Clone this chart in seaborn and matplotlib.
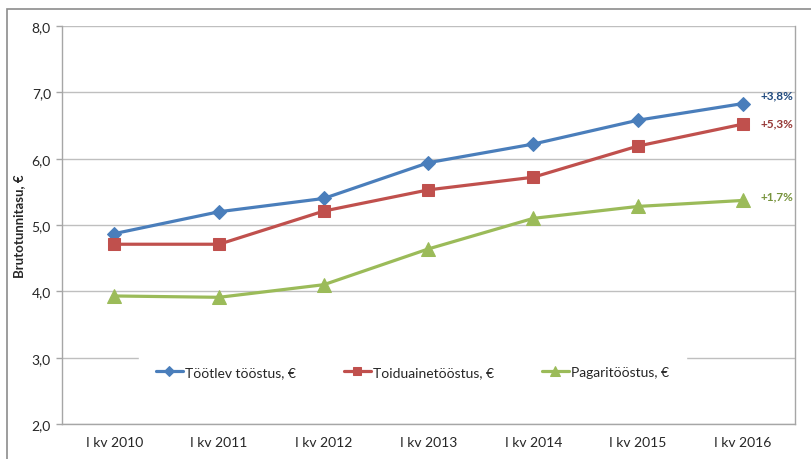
import matplotlib
matplotlib.use("Agg")
import matplotlib.pyplot as plt
import matplotlib.patches as mpatches
import seaborn as sns
import pandas as pd
import numpy as np

# data
quarters = ["I kv 2010", "I kv 2011", "I kv 2012", "I kv 2013", "I kv 2014", "I kv 2015", "I kv 2016"]
tootlev = [4.87, 5.20, 5.40, 5.94, 6.22, 6.58, 6.83]
toiduaine = [4.71, 4.71, 5.21, 5.53, 5.72, 6.19, 6.52]
pagari = [3.93, 3.91, 4.10, 4.64, 5.10, 5.28, 5.37]
series_names = ["Töötlev tööstus, €", "Toiduainetööstus, €", "Pagaritööstus, €"]
growth_labels = ["+3,8%", "+5,3%", "+1,7%"]
y_ticks = [2.0, 3.0, 4.0, 5.0, 6.0, 7.0, 8.0]

sns.set_theme(style="white")
plt.rcParams["font.family"] = ["Lato", "DejaVu Sans"]

line_colors = ["#4A7EBB", "#C0504D", "#9BBB59"]
label_colors = ["#1F497D", "#953735", "#77933C"]
markers = ["D", "s", "^"]
msizes = [7, 8.5, 9.5]
label_offsets = [6, 1, 3]

fig = plt.figure(figsize=(8.12, 4.6), dpi=100)
W, H = 812, 460
ax = fig.add_axes([62 / W, 1 - 425 / H, (795 - 62) / W, (425 - 27) / H])

# outer chart frame (only left/top visible in the crop)
fig.patches.append(mpatches.Rectangle((7 / W, -0.1), 1.2, 1.1 - 9.5 / H, transform=fig.transFigure,
                                      fill=False, edgecolor="#8C8C8C", linewidth=1.2, zorder=0))

x = np.arange(len(quarters))
for vals, name, c, m, ms in zip([tootlev, toiduaine, pagari], series_names, line_colors, markers, msizes):
    df = pd.DataFrame({"x": x, "y": vals})
    sns.lineplot(data=df, x="x", y="y", ax=ax, color=c, marker=m, markersize=ms,
                 markeredgecolor=c, linewidth=2.3, label=name, zorder=3)

for vals, lab, c, off in zip([tootlev, toiduaine, pagari], growth_labels, label_colors, label_offsets):
    ax.annotate(lab, xy=(x[-1], vals[-1]), xytext=(13, off), textcoords="offset points",
                ha="left", va="center", fontsize=8.5, fontweight="bold", color=c)

ax.set_xlim(-0.5, len(quarters) - 0.5)
ax.set_ylim(2.0, 8.0)
ax.set_yticks(y_ticks)
ax.set_yticklabels([f"{v:.1f}".replace(".", ",") for v in y_ticks], fontsize=10, color="#262626")
ax.set_xticks(x)
ax.set_xticklabels(quarters, fontsize=10, color="#262626")
ax.set_xticks(np.arange(-0.5, len(quarters)), minor=True)
ax.tick_params(axis="x", which="major", length=0, pad=9)
ax.tick_params(axis="x", which="minor", length=5, color="#A6A6A6", width=1, direction="out")
ax.tick_params(axis="y", length=4, color="#A6A6A6", width=1, direction="out", pad=4, left=True)
ax.grid(axis="y", color="#BFBFBF", linewidth=1)
ax.set_axisbelow(True)
for side in ["left", "bottom", "right"]:
    ax.spines[side].set_color("#A6A6A6")
    ax.spines[side].set_linewidth(1)
ax.spines["top"].set_visible(False)

ax.set_xlabel("")
ax.set_ylabel("Brutotunnitasu, €", fontsize=9.5, fontweight="bold", labelpad=5)

leg = ax.legend(loc="center", bbox_to_anchor=((412.5 - 62) / (795 - 62), (425 - 373) / (425 - 27)),
                ncol=3, frameon=True, fontsize=10, handlelength=2.0, handletextpad=0.15,
                columnspacing=3.4, borderpad=1.2, borderaxespad=0)
leg.get_frame().set_facecolor("white")
leg.get_frame().set_edgecolor("white")
leg.get_frame().set_alpha(1)
leg.set_zorder(2)
for h in leg.legend_handles:
    h.set_markersize(h.get_markersize() * 0.75)

fig.savefig("out.png", dpi=100)
